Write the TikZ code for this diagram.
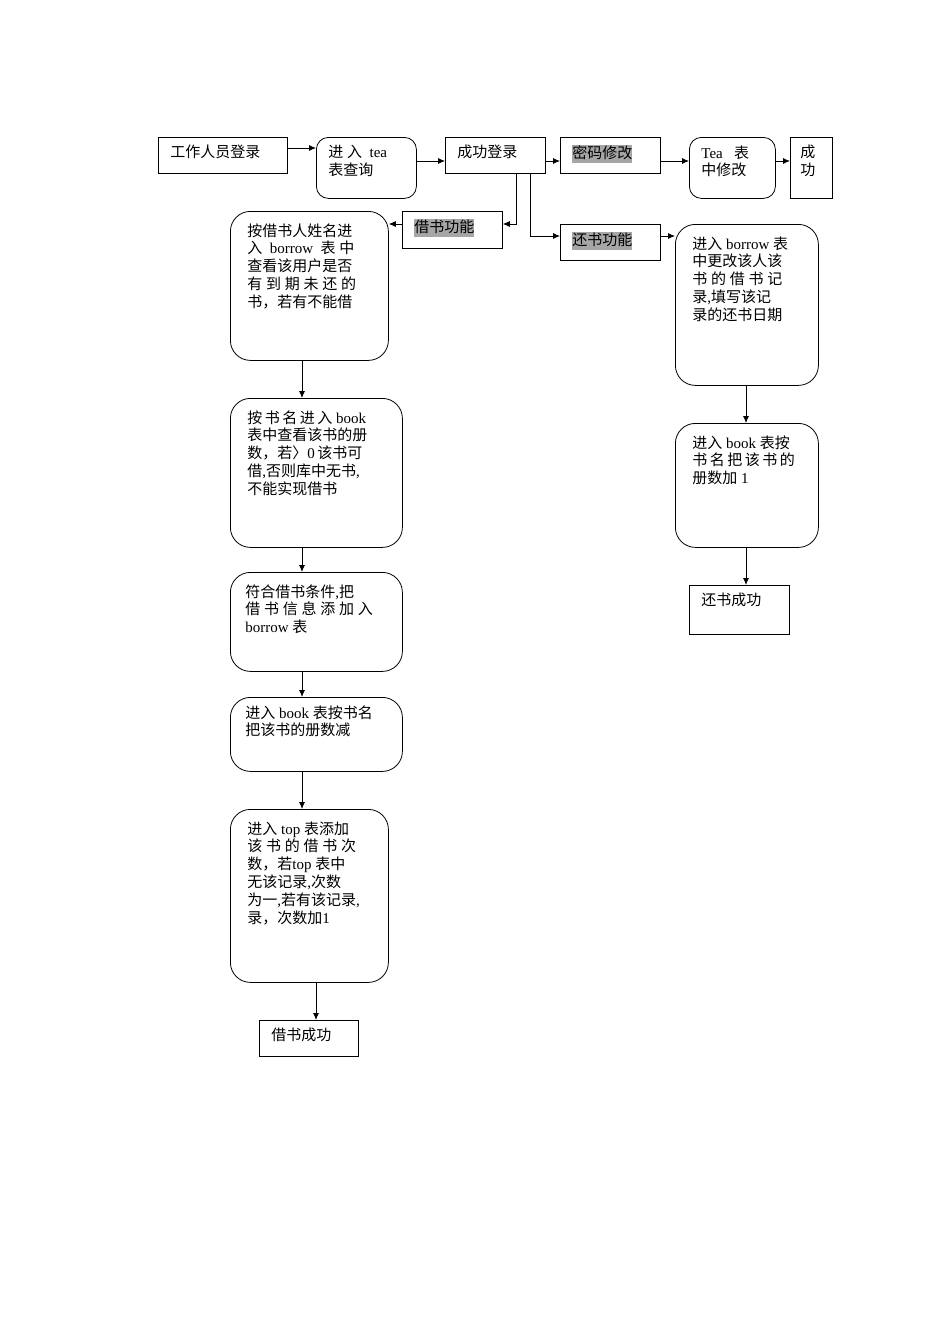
\documentclass[tikz,border=0pt]{standalone}
\usepackage{fontspec}
\setmainfont{Liberation Serif}
\newfontfamily\cjk{Noto Sans CJK SC}
\newfontfamily\lat{Liberation Serif}
\newcount\mycc
\mycc="4E00 \loop \XeTeXcharclass\mycc=1 \advance\mycc by 1 \ifnum\mycc<"A000 \repeat
\mycc="3000 \loop \XeTeXcharclass\mycc=1 \advance\mycc by 1 \ifnum\mycc<"3040 \repeat
\mycc="FF00 \loop \XeTeXcharclass\mycc=1 \advance\mycc by 1 \ifnum\mycc<"FFF0 \repeat
\XeTeXinterchartoks 0 1 = {\cjk}
\XeTeXinterchartoks 4095 1 = {\cjk}
\XeTeXinterchartoks 1 0 = {\lat}
\XeTeXinterchartoks 1 4095 = {\lat}
\usetikzlibrary{arrows.meta}
\newcommand\tb[3]{\parbox[c][#2][t]{#1}{\raggedright #3}}
\newcommand\hl[1]{{\setlength\fboxsep{0pt}\colorbox{black!35}{\strut #1}}}
\begin{document}
\XeTeXinterchartokenstate=1
\begin{tikzpicture}[x=1pt,y=-1pt,
  every node/.style={font=\fontsize{15}{17.8}\selectfont},
  sq/.style={draw,line width=0.8pt,anchor=north west,inner xsep=12pt,inner ysep=8pt},
  rd/.style={sq,rounded corners=12pt},
  rdb/.style={sq,rounded corners=20pt,inner xsep=17pt,inner ysep=12pt},
  ar/.style={draw,line width=0.8pt,-{Latex[length=7pt,width=6pt]}}]
\fill[white] (0,0) rectangle (950,1344);
\node[sq] (A) at (158,137) {\tb{105pt}{20pt}{工作人员登录}};
\node[rd] (B) at (316,137) {\tb{76pt}{45pt}{进\ 入\ \ tea\\表查询}};
\node[sq] (C) at (445,137) {\tb{76pt}{20pt}{成功登录}};
\node[sq] (D) at (560,137) {\tb{76pt}{20pt}{\hl{密码修改}}};
\node[rd] (E) at (689,137) {\tb{62pt}{45pt}{Tea\ \ \ 表\\中修改}};
\node[sq,inner xsep=10pt] (F) at (790,137) {\tb{22pt}{45pt}{成\\功}};
\node[sq] (G) at (402,211) {\tb{76pt}{21pt}{\hl{借书功能}}};
\node[sq] (H) at (560,224) {\tb{76pt}{20pt}{\hl{还书功能}}};
\node[rdb] (L1) at (230,211) {\tb{124pt}{125pt}{按借书人姓名进\\入\ \ borrow\ \ 表\ 中\\查看该用户是否\\有\ 到\ 期\ 未\ 还\ 的\\书，若有不能借}};
\node[rdb] (L2) at (230,398) {\tb{138pt}{125pt}{按\,书\,名\,进\,入\ book\\表中查看该书的册\\数，若〉0\,该书可\\借,否则库中无书,\\不能实现借书}};
\node[rdb,inner xsep=15pt] (L3) at (230,572) {\tb{142pt}{75pt}{符合借书条件,把\\借\ 书\ 信\ 息\ 添\ 加\ 入\\borrow 表}};
\node[rdb,inner xsep=15pt,inner ysep=8pt] (L4) at (230,697) {\tb{142pt}{58pt}{进入 book 表按书名\\把该书的册数减}};
\node[rdb] (L5) at (230,809) {\tb{124pt}{149pt}{进入 top 表添加\\该\ 书\ 的\ 借\ 书\ 次\\数，若top 表中\\无该记录,次数\\为一,若有该记录,\\录，次数加1}};
\node[sq] (L6) at (259,1020) {\tb{75pt}{20pt}{借书成功}};
\node[rdb] (R1) at (675,224) {\tb{109pt}{137pt}{进入 borrow 表\\中更改该人该\\书\ 的\ 借\ 书\ 记\\录,填写该记\\录的还书日期}};
\node[rdb] (R2) at (675,423) {\tb{109pt}{100pt}{进入 book 表按\\书\,名\,把\,该\,书\,的\\册数加 1}};
\node[sq] (R3) at (689,585) {\tb{76pt}{33pt}{还书成功}};
\coordinate (c1) at (516,173);
\coordinate (c2) at (516,224);
\coordinate (c3) at (530,173);
\coordinate (c4) at (530,236);
\draw[ar] (A.east|-0,148) -- (B.west|-0,148);
\draw[ar] (B.east|-0,161) -- (C.west|-0,161);
\draw[ar] (C.east|-0,161) -- (D.west|-0,161);
\draw[ar] (D.east|-0,161) -- (E.west|-0,161);
\draw[ar] (E.east|-0,161) -- (F.west|-0,161);
\draw[ar] (c1) -- (c2) -- (G.east|-c2);
\draw[ar] (c3) -- (c4) -- (H.west|-c4);
\draw[ar] (G.west|-0,224) -- (L1.east|-0,224);
\draw[ar] (H.east|-0,236) -- (R1.west|-0,236);
\draw[ar] (L1.south-|302,0) -- (L2.north-|302,0);
\draw[ar] (L2.south-|302,0) -- (L3.north-|302,0);
\draw[ar] (L3.south-|302,0) -- (L4.north-|302,0);
\draw[ar] (L4.south-|302,0) -- (L5.north-|302,0);
\draw[ar] (L5.south-|316,0) -- (L6.north-|316,0);
\draw[ar] (R1.south-|746,0) -- (R2.north-|746,0);
\draw[ar] (R2.south-|746,0) -- (R3.north-|746,0);
\end{tikzpicture}
\end{document}
